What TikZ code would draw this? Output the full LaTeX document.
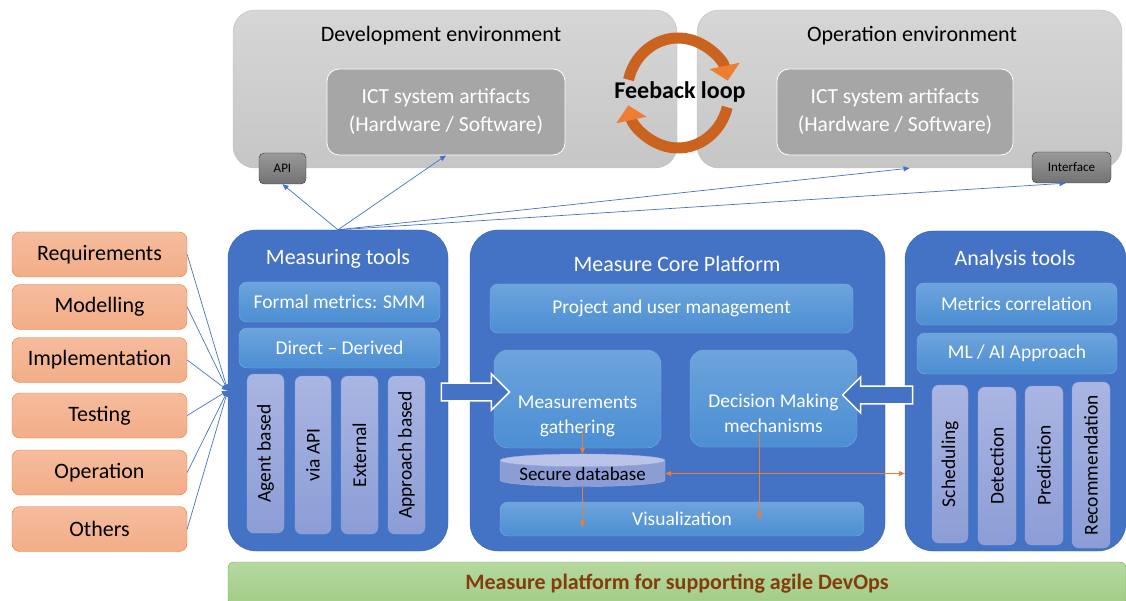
\documentclass[tikz,border=0pt]{standalone}
\usepackage{fontspec}
\setmainfont{Carlito}
\usetikzlibrary{arrows.meta, shapes.geometric, shapes.arrows}
\definecolor{mainblue}{HTML}{4472C4}
\definecolor{barblue}{HTML}{5B9BD5}
\definecolor{bartop}{HTML}{6DA4DC}
\definecolor{barbot}{HTML}{4B8ED3}
\definecolor{lavleft}{HTML}{A9B5E2}
\definecolor{lavright}{HTML}{8C9DD6}
\definecolor{salmontop}{HTML}{F5BC9D}
\definecolor{salmonbot}{HTML}{F3AD88}
\definecolor{salmonline}{HTML}{ED7D31}
\definecolor{envtop}{HTML}{D6D6D6}
\definecolor{envbot}{HTML}{C6C6C6}
\definecolor{ictgray}{HTML}{A6A6A6}
\definecolor{greentop}{HTML}{B5D8A0}
\definecolor{greenbot}{HTML}{A2CC85}
\definecolor{greenline}{HTML}{70AD47}
\definecolor{darkrust}{HTML}{843C0C}
\definecolor{loopdark}{HTML}{C9631F}
\definecolor{looplight}{HTML}{ED7D31}
\tikzset{
	env/.style={rounded corners=22pt, draw=black!25, top color=envtop, bottom color=envbot},
	envtitle/.style={font=\fontsize{22}{26}\selectfont},
	ict/.style={rounded corners=12pt, draw=white, thick, fill=ictgray, text=white, align=center, font=\fontsize{21.5}{28}\selectfont},
	port/.style={rounded corners=5pt, draw=black!80, top color=black!40, bottom color=black!55, font=\fontsize{13}{15}\selectfont},
	phase/.style={rounded corners=8pt, draw=salmonline, top color=salmontop, bottom color=salmonbot, minimum width=175pt, minimum height=45pt, font=\fontsize{22}{26}\selectfont},
	tool/.style={rounded corners=28pt, fill=mainblue, draw=mainblue!85!black},
	title/.style={text=white, font=\fontsize{22}{26}\selectfont},
	layertext/.style={text=white, align=center, font=\fontsize{19.5}{25}\selectfont},
	layer/.style={layertext, rounded corners=8pt, draw=barblue!80, top color=bartop, bottom color=barbot},
	column/.style={rotate=90, rounded corners=7pt, top color=lavleft, bottom color=lavright, draw=lavright!90, font=\fontsize{19.5}{22}\selectfont},
	link/.style={mainblue, line width=0.7pt, -{Triangle[length=6pt,width=5pt]}},
	flow/.style={looplight, line width=0.8pt, -{Triangle[length=6pt,width=5pt]}},
	both/.style={flow, {Triangle[length=6pt,width=5pt]}-{Triangle[length=6pt,width=5pt]}},
	hollow/.style={single arrow, draw=white, line width=1.5pt, fill=mainblue, inner sep=0pt, text height=16pt, text depth=0pt, single arrow head extend=9pt, minimum width=36pt},
	loop/.style={loopdark, line width=11pt, -{Triangle[length=15pt,width=30pt,color=looplight]}}
}
\begin{document}
\begin{tikzpicture}[x=1pt, y=-1pt]
	\useasboundingbox (0,0) rectangle (1126,601);
	\clip (0,0) rectangle (1126,601);
	% --- environments ---
	\node[env, minimum width=444pt, minimum height=158pt] (dev) at (455,89) {};
	\node[env, minimum width=425pt, minimum height=158pt] (op) at (909.5,89) {};
	\node[envtitle] (devtitle) at (441,36) {Development environment};
	\node[envtitle] (optitle) at (912,36) {Operation environment};
	\node[ict, minimum width=238pt, minimum height=86pt] (devict) at (446,112) {ICT system artifacts\\(Hardware / Software)};
	\node[ict, minimum width=236pt, minimum height=86pt] (opict) at (895,112) {ICT system artifacts\\(Hardware / Software)};
	\node[port, minimum width=47pt, minimum height=31pt] (api) at (282.5,168.5) {API};
	\node[port, minimum width=79pt, minimum height=31pt] (iface) at (1071.5,167.5) {Interface};

	% --- feedback loop ---
	\draw[loop] (678,93) ++(194:51 and 55) arc[start angle=194, end angle=347, x radius=51, y radius=55];
	\draw[loop] (678,93) ++(15:51 and 55) arc[start angle=15, end angle=167, x radius=51, y radius=55];
	\node[font=\bfseries\fontsize{24}{28}\selectfont] (feedback) at (680,92) {Feeback loop};

	% --- phases ---
	\node[phase] (req) at (99.5,254.5) {Requirements};
	\node[phase] (model) at (99.5,307) {Modelling};
	\node[phase] (impl) at (99.5,360) {Implementation};
	\node[phase] (test) at (99.5,415.5) {Testing};
	\node[phase] (oper) at (99.5,472.5) {Operation};
	\node[phase] (other) at (99.5,529) {Others};

	% --- measuring tools ---
	\node[tool, minimum width=220pt, minimum height=321pt] (meas) at (338,390.5) {};
	\node[title] (meastitle) at (338,259) {Measuring tools};
	\node[layer, minimum width=201pt, minimum height=40pt] (formal) at (339.5,302) {Formal metrics: SMM};
	\node[layer, minimum width=201pt, minimum height=40pt] (direct) at (339.5,348) {Direct -- Derived};
	\node[column, minimum width=159pt, minimum height=37pt] (agent) at (265.5,453.5) {Agent based};
	\node[column, minimum width=158pt, minimum height=36pt] (viaapi) at (313,455) {via API};
	\node[column, minimum width=158pt, minimum height=37pt] (external) at (359.5,455) {External};
	\node[column, minimum width=158pt, minimum height=37pt] (approach) at (406.5,455) {Approach based};

	% --- core platform ---
	\node[tool, minimum width=415pt, minimum height=321pt] (core) at (677.5,390.5) {};
	\node[title] (coretitle) at (677,264) {Measure Core Platform};
	\node[layer, minimum width=363pt, minimum height=49pt] (project) at (671.5,308.5) {Project and user management};
	\node[layer, rounded corners=14pt, minimum width=167pt, minimum height=98pt, label={[layertext, yshift=-17pt]center:Measurements\\gathering}] (gather) at (577.5,399) {};
	\node[layer, rounded corners=14pt, minimum width=167pt, minimum height=97pt, label={[layertext, yshift=-15pt]center:Decision Making\\mechanisms}] (decision) at (773.5,398.5) {};
	\node[cylinder, shape border rotate=90, aspect=0.1, draw=lavright!80, cylinder uses custom fill, cylinder body fill=lavright, cylinder end fill=lavleft!80, minimum width=165pt, minimum height=31pt, inner sep=0pt, font=\fontsize{19}{22}\selectfont] (db) at (582.5,473.5) {Secure database};
	\node[layer, minimum width=364pt, minimum height=34pt] (visual) at (682,519) {Visualization};

	% --- analysis tools ---
	\node[tool, minimum width=221pt, minimum height=320pt] (analysis) at (1015.5,391) {};
	\node[title] (antitle) at (1015,260) {Analysis tools};
	\node[layer, minimum width=201pt, minimum height=42pt] (corr) at (1016.5,304) {Metrics correlation};
	\node[layer, minimum width=200pt, minimum height=41pt] (mlai) at (1017,353.5) {ML / AI Approach};
	\node[column, minimum width=158pt, minimum height=36pt] (sched) at (950,464) {Scheduling};
	\node[column, minimum width=158pt, minimum height=38pt] (detect) at (997,466) {Detection};
	\node[column, minimum width=159pt, minimum height=38pt] (predict) at (1044,465.5) {Prediction};
	\node[column, minimum width=166pt, minimum height=38pt] (recomm) at (1091,465) {Recommendation};

	% --- hollow arrows ---
	\node[hollow, minimum height=68pt] (togather) at (471,392) {};
	\node[hollow, minimum height=70pt, shape border rotate=180] (todecision) at (882,395) {};

	% --- base bar ---
	\node[rounded corners=6pt, draw=greenline, top color=greentop, bottom color=greenbot, minimum width=898pt, minimum height=44pt, text=darkrust, font=\bfseries\fontsize{22}{26}\selectfont] (base) at (677,584) {Measure platform for supporting agile DevOps};

	% --- connectors ---
	\foreach \p in {req,model,impl,test,oper,other}
		\draw[link] (\p.east) -- (meas.west);
	\draw[link] (meas.north) -- (api.south);
	\draw[link] (meas.north) -- (devict.south);
	\draw[link] (meas.north) -- (op.south);
	\draw[link] (meas.north) -- ([xshift=-6pt]iface.south);
	\draw[flow] ([xshift=5pt,yshift=18pt]gather.south) -- (db.north);
	\draw[flow] (db.south) -- ([yshift=-8pt]db.south |- visual.center);
	\draw[flow] ([xshift=-14pt,yshift=14pt]decision.south) -- ([xshift=-14pt]decision.south |- visual.center);
	\draw[both] (db.east) -- (db.east -| analysis.west);
\end{tikzpicture}
\end{document}
